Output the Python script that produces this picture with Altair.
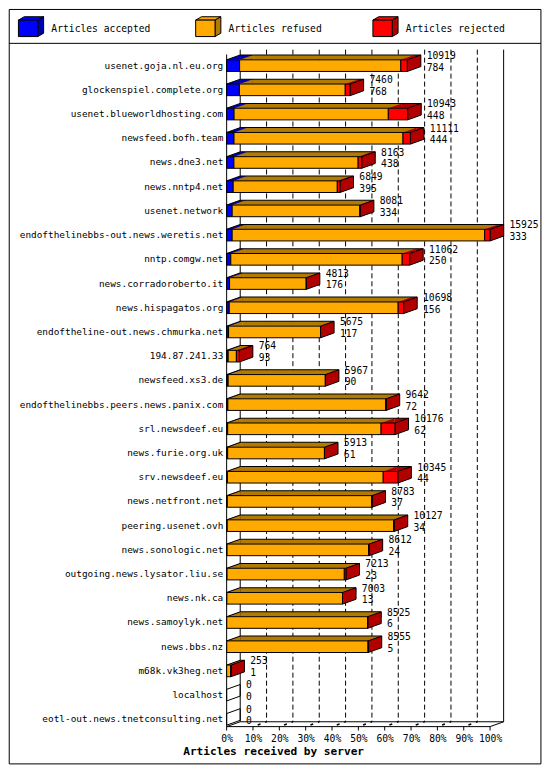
import altair as alt
import pandas as pd

hosts = [
    "usenet.goja.nl.eu.org", "glockenspiel.complete.org", "usenet.blueworldhosting.com",
    "newsfeed.bofh.team", "news.dne3.net", "news.nntp4.net", "usenet.network",
    "endofthelinebbs-out.news.weretis.net", "nntp.comgw.net", "news.corradoroberto.it",
    "news.hispagatos.org", "endoftheline-out.news.chmurka.net", "194.87.241.33",
    "newsfeed.xs3.de", "endofthelinebbs.peers.news.panix.com", "srl.newsdeef.eu",
    "news.furie.org.uk", "srv.newsdeef.eu", "news.netfront.net", "peering.usenet.ovh",
    "news.sonologic.net", "outgoing.news.lysator.liu.se", "news.nk.ca",
    "news.samoylyk.net", "news.bbs.nz", "m68k.vk3heg.net", "localhost",
    "eotl-out.news.tnetconsulting.net",
]
offered = [10919, 7460, 10943, 11111, 8163, 6849, 8081, 15925, 11062, 4813, 10698, 5675,
           764, 5967, 9642, 10176, 5913, 10345, 8783, 10127, 8612, 7213, 7003, 8525, 8555,
           253, 0, 0]
accepted = [784, 768, 448, 444, 438, 395, 334, 333, 250, 176, 156, 117, 93, 90, 72, 62,
            61, 44, 37, 34, 24, 23, 13, 6, 5, 1, 0, 0]
# rejected counts estimated from the width of the red segments
rejected = [390, 290, 1170, 450, 215, 160, 30, 330, 450, 0, 330, 0, 175, 0, 20, 840,
            0, 880, 0, 30, 30, 100, 0, 0, 0, 0, 0, 0]
segments = ["Articles accepted", "Articles refused", "Articles rejected"]
front_colors = ["#0000ff", "#ffaa00", "#ff0000"]
dark_colors = ["#0000b2", "#b27a00", "#b20000"]
tick_values = list(range(0, 101, 10))

FONT = "DejaVu Sans Mono"
S = 0.97
DX = 14 * S
DY = 5 * S
BH = 12 * S
W = 272 * S
H = 700 * S
R = 10 * S
PSIZE = (2 * R) ** 2


def vx(X):
    return (X - 225) * S


def vy(Y):
    return (Y - 46) * S


MAXV = max(offered)
rows = []
for h, o, a, r in zip(hosts, offered, accepted, rejected):
    vals = [a, o - a - r, r]
    c = 0
    for seg, v in zip(segments, vals):
        rows.append(dict(host=h, seg=seg, x0=c / MAXV * 100, x1=(c + v) / MAXV * 100, offered=o))
        c += v
seg_df = pd.DataFrame(rows)
host_df = pd.DataFrame(dict(host=hosts, offered=offered, accepted=accepted,
                            end=[o / MAXV * 100 for o in offered]))
grid_df = pd.DataFrame(dict(p=tick_values))

yscale = alt.Scale(domain=hosts, paddingInner=0, paddingOuter=0)
xscale = alt.Scale(domain=[0, 100], nice=False, zero=True)
XAX = alt.Axis(values=tick_values, labelExpr="datum.value + '%'", domain=False,
               ticks=False, grid=False, labelPadding=2.5 * S, labelFont=FONT,
               labelFontSize=10 * S, labelColor="black", labelOverlap=False,
               labelFlush=False,
               title="Articles received by server", titleFont=FONT,
               titleFontSize=11.5 * S, titleFontWeight="bold", titleColor="black",
               titlePadding=2.5 * S, titleX=vx(273), titleAlign="center", zindex=1)
YAX = alt.Axis(title=None, domain=False, ticks=False, grid=False,
               labelPadding=4 * S, labelFont=FONT, labelFontSize=9.7 * S,
               labelColor="black", labelLimit=400, zindex=1)


def X(field):
    return alt.X(field, scale=xscale, axis=XAX)


Y = alt.Y("host:N", sort=hosts, scale=yscale, axis=YAX)

layers = []
one = alt.Data(values=[{}])

# outer frame and legend separator
layers.append(alt.Chart(one).mark_rect(
    fill="transparent", stroke="black", strokeWidth=1).encode(
    x=alt.value(vx(0.5)), x2=alt.value(vx(549.5)), y=alt.value(vy(0.5)), y2=alt.value(vy(779.5))))
layers.append(alt.Chart(one).mark_rule(color="black", strokeWidth=1).encode(
    x=alt.value(vx(0.5)), x2=alt.value(vx(549.5)), y=alt.value(vy(35.5))))

# back plane
layers.append(alt.Chart(grid_df).transform_filter("datum.p > 0 && datum.p < 100").mark_rule(
    color="black", strokeWidth=1, strokeDash=[5, 3], xOffset=DX).encode(
    x=X("p:Q"), y=alt.value(vy(42)), y2=alt.value(vy(736))))
layers.append(alt.Chart(grid_df).transform_filter("datum.p == 0 || datum.p == 100").mark_rule(
    color="black", strokeWidth=1, xOffset=DX).encode(
    x=X("p:Q"), y=alt.value(vy(42)), y2=alt.value(vy(736))))
# floor
floor = alt.Chart(grid_df).transform_aggregate(lo="min(p)", hi="max(p)")
layers.append(floor.mark_rule(color="black", strokeWidth=1).encode(
    x=X("lo:Q"), x2="hi:Q", y=alt.value(vy(741))))
layers.append(floor.mark_rule(color="black", strokeWidth=1, xOffset=DX, x2Offset=DX).encode(
    x=X("lo:Q"), x2="hi:Q", y=alt.value(vy(736))))
layers.append(alt.Chart(grid_df).mark_rule(color="black", strokeWidth=1).encode(
    x=X("p:Q"), y=alt.value(vy(741)), y2=alt.value(vy(745))))
layers.append(alt.Chart(grid_df).transform_filter("datum.p > 0 && datum.p < 100").mark_rule(
    color="black", strokeWidth=1.5, strokeDash=[3, 5], strokeDashOffset=-5, x2Offset=DX).encode(
    x=X("p:Q"), x2="p:Q", y=alt.value(vy(741)), y2=alt.value(vy(736))))
layers.append(alt.Chart(grid_df).transform_filter("datum.p == 0 || datum.p == 100").mark_rule(
    color="black", strokeWidth=1, x2Offset=DX).encode(
    x=X("p:Q"), x2="p:Q", y=alt.value(vy(741)), y2=alt.value(vy(736))))
# front-left edge
layers.append(alt.Chart(one).mark_rule(color="black", strokeWidth=1).encode(
    x=alt.value(vx(225)), y=alt.value(vy(47)), y2=alt.value(vy(741))))

pos = seg_df[seg_df.offered > 0]
darkfill = alt.Fill("seg:N", scale=alt.Scale(domain=segments, range=dark_colors), legend=None)
# top faces
layers.append(alt.Chart(pos).mark_bar(size=DY, yOffset=-(BH / 2 + DY / 2), xOffset=DX,
                                      x2Offset=DX, strokeWidth=0).encode(
    x=X("x0:Q"), x2="x1:Q", y=Y, fill=darkfill))
layers.append(alt.Chart(pos).mark_point(shape="M0,-0.6L1.4,-1.1L1.4,-0.6Z", filled=True,
                                        size=PSIZE, opacity=1, strokeWidth=0).encode(
    x=X("x0:Q"), y=Y, fill=darkfill))
# top outline
hpos = alt.Chart(host_df).transform_filter("datum.offered > 0").transform_calculate(z="0")
layers.append(hpos.mark_bar(size=1, color="black", yOffset=-(BH / 2 + DY),
                            xOffset=DX, x2Offset=DX).encode(
    x=X("z:Q"), x2="end:Q", y=Y))
layers.append(hpos.mark_point(shape="M0,-0.6L1.4,-1.1", filled=False, size=PSIZE,
                              opacity=1, color="black", strokeWidth=1).encode(
    x=X("z:Q"), y=Y))
# side faces
layers.append(alt.Chart(host_df).mark_point(shape="M0,-0.6L1.4,-1.1L1.4,0.1L0,0.6Z",
                                            size=PSIZE, opacity=1, stroke="black",
                                            strokeWidth=1, filled=True).encode(
    x=X("end:Q"), y=Y,
    fill=alt.condition("datum.offered > 0", alt.value(dark_colors[2]), alt.value("transparent"))))
# front faces
layers.append(alt.Chart(pos).mark_bar(size=BH, stroke="black", strokeWidth=1).encode(
    x=X("x0:Q"), x2="x1:Q", y=Y,
    color=alt.Color("seg:N", scale=alt.Scale(domain=segments, range=front_colors), legend=None)))
# value labels
layers.append(alt.Chart(host_df).mark_text(align="left", baseline="middle", dx=20 * S,
                                           dy=-10 * S, font=FONT, fontSize=10 * S,
                                           color="black").encode(
    x=X("end:Q"), y=Y, text="offered:Q"))
layers.append(alt.Chart(host_df).mark_text(align="left", baseline="middle", dx=20 * S,
                                           dy=2 * S, font=FONT, fontSize=10 * S,
                                           color="black").encode(
    x=X("end:Q"), y=Y, text="accepted:Q"))

# legend (3D boxes)
for i, (name, fc, dc) in enumerate(zip(segments, front_colors, dark_colors)):
    cx = vx(20 + 183 * i)
    cy = vy(20)
    for shape, col in [("M-1,-0.85L-0.4,-1.2L1.6,-1.2L1,-0.85Z", fc),
                       ("M1,-0.85L1.6,-1.2L1.6,0.5L1,0.85Z", dc),
                       ("M-1,-0.85L1,-0.85L1,0.85L-1,0.85Z", fc)]:
        layers.append(alt.Chart(one).mark_point(
            shape=shape, size=PSIZE, filled=True, opacity=1, fill=col, stroke="black",
            strokeWidth=1).encode(x=alt.value(cx), y=alt.value(cy)))
    layers.append(alt.Chart(one).mark_text(
        text=name, align="left", baseline="middle", font=FONT, fontSize=10 * S,
        color="black").encode(x=alt.value(vx(44 + 183 * i)), y=alt.value(vy(21))))

chart = alt.layer(*layers).properties(
    width=W, height=H, padding=0, background="white"
).configure_view(stroke="transparent")

chart.save("out.html", embed_options={"renderer": "svg", "actions": False})
